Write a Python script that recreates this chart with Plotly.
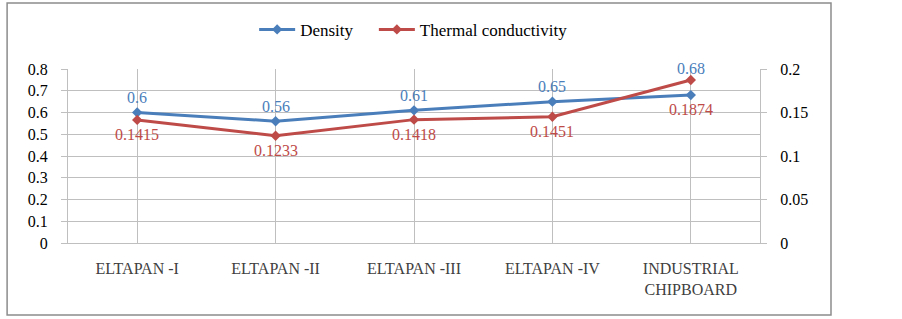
import plotly.graph_objects as go

categories = ["ELTAPAN -I", "ELTAPAN -II", "ELTAPAN -III", "ELTAPAN -IV", "INDUSTRIAL<br>CHIPBOARD"]
density = [0.6, 0.56, 0.61, 0.65, 0.68]
conductivity = [0.1415, 0.1233, 0.1418, 0.1451, 0.1874]
density_labels = ["0.6", "0.56", "0.61", "0.65", "0.68"]
conductivity_labels = ["0.1415", "0.1233", "0.1418", "0.1451", "0.1874"]
left_ticks = [0, 0.1, 0.2, 0.3, 0.4, 0.5, 0.6, 0.7, 0.8]
left_tick_text = ["0", "0.1", "0.2", "0.3", "0.4", "0.5", "0.6", "0.7", "0.8"]
right_ticks = [0, 0.05, 0.1, 0.15, 0.2]
right_tick_text = ["0", "0.05", "0.1", "0.15", "0.2"]

BLUE = "#4A7EBB"
RED = "#BE4B48"
GRID = "#BFBFBF"
FONT = "Liberation Serif, Times New Roman, serif"

# label offsets in pixels (style only); last pair placed further out as in the reference
dens_shift = [15, 15, 15, 15, 27]
cond_shift = [-15, -15, -15, -15, -30]

fig = go.Figure()
fig.add_trace(go.Scatter(
    x=categories, y=density, name="Density", mode="lines+markers",
    line=dict(color=BLUE, width=3), marker=dict(symbol="diamond", size=8, color=BLUE),
    legend="legend",
))
fig.add_trace(go.Scatter(
    x=categories, y=conductivity, name="Thermal conductivity", mode="lines+markers",
    line=dict(color=RED, width=3), marker=dict(symbol="diamond", size=8, color=RED),
    yaxis="y2", legend="legend2",
))

annotations = []
for c, v, t, s in zip(categories, density, density_labels, dens_shift):
    annotations.append(dict(x=c, y=v, xref="x", yref="y", text=t, showarrow=False,
                            yshift=s, yanchor="middle",
                            font=dict(family=FONT, size=16, color=BLUE)))
for c, v, t, s in zip(categories, conductivity, conductivity_labels, cond_shift):
    annotations.append(dict(x=c, y=v, xref="x", yref="y2", text=t, showarrow=False,
                            yshift=s, yanchor="middle",
                            font=dict(family=FONT, size=16, color=RED)))

legend_style = dict(orientation="h", xanchor="left", y=1.225, yanchor="middle",
                    font=dict(family=FONT, size=17, color="black"),
                    bgcolor="rgba(0,0,0,0)", itemwidth=36, tracegroupgap=0)

fig.update_layout(
    width=902, height=319,
    margin=dict(l=68, r=142, t=69, b=76, autoexpand=False),
    paper_bgcolor="white", plot_bgcolor="white",
    font=dict(family=FONT, size=15, color="black"),
    showlegend=True,
    legend=dict(x=0.269, **legend_style),
    legend2=dict(x=0.442, **legend_style),
    xaxis=dict(type="category", range=[-0.5, 4.5], showgrid=True, gridcolor=GRID, gridwidth=1,
               showline=True, linecolor=GRID, linewidth=1, ticks="",
               tickfont=dict(family=FONT, size=16, color="#404040"),
               ticklabelstandoff=11, automargin=False),
    yaxis=dict(range=[0, 0.8], tickvals=left_ticks, ticktext=left_tick_text,
               showgrid=True, gridcolor=GRID, gridwidth=1, zeroline=False,
               showline=True, linecolor=GRID, linewidth=1,
               ticks="outside", ticklen=6, tickcolor=GRID,
               tickfont=dict(family=FONT, size=16, color="black"), ticklabelstandoff=10,
               automargin=False),
    yaxis2=dict(range=[0, 0.2], tickvals=right_ticks, ticktext=right_tick_text,
                overlaying="y", side="right", showgrid=False, zeroline=False,
                showline=True, linecolor=GRID, linewidth=1,
                ticks="outside", ticklen=6, tickcolor=GRID,
                tickfont=dict(family=FONT, size=16, color="black"), ticklabelstandoff=10,
                automargin=False),
    annotations=annotations,
    shapes=[dict(type="rect", xref="paper", yref="paper",
                 x0=-0.088, x1=1.1026, y0=-0.414, y1=1.379,
                 line=dict(color="#8C8C8C", width=1.5), fillcolor="rgba(0,0,0,0)", layer="below")],
)

fig.write_html("out.html", config={"displayModeBar": False},
               post_script="document.body.style.margin='0';document.body.style.padding='0';")
